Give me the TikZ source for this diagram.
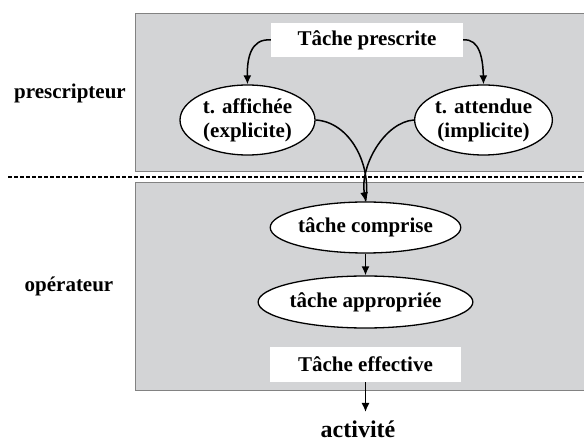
\documentclass[tikz,border=0pt]{standalone}
\usepackage{fontspec}
\setmainfont{Liberation Serif}
\usetikzlibrary{arrows.meta,shapes.geometric}
\definecolor{panelgray}{RGB}{211,212,214}
\definecolor{paneledge}{RGB}{130,130,130}
\begin{document}
\begin{tikzpicture}[x=1pt,y=-1pt,
  panel/.style={draw=paneledge,fill=panelgray,line width=0.9pt},
  whitebox/.style={fill=white,draw=none,inner sep=0pt,minimum width=192pt,minimum height=34pt,font=\fontsize{21}{24}\selectfont\bfseries},
  oval/.style={ellipse,draw=black,fill=white,line width=1.3pt,inner sep=0pt,align=center,font=\fontsize{21}{24}\selectfont\bfseries},
  sidelabel/.style={font=\fontsize{21}{24}\selectfont\bfseries},
  conn/.style={line width=1.5pt,-{Latex[length=9pt,width=8pt]}},
  plainconn/.style={line width=1.5pt}]
\useasboundingbox (0,0) rectangle (584,443);
\fill[white] (0,0) rectangle (584,443);
\begin{scope}
\clip (0,0) rectangle (584,443);
\draw[panel] (135,13) rectangle (600,171);
\draw[panel] (135,182) rectangle (600,390);
\draw[line width=1.1pt,dash pattern=on 4pt off 2pt] (8,177) -- (600,177);
\end{scope}

\node[sidelabel] (lpres) at (70,93) {prescripteur};
\node[sidelabel] (lop) at (69,286) {opérateur};

\node[whitebox] (presc) at (367,40) {Tâche prescrite};
\node[oval,minimum width=135pt,minimum height=70pt] (aff) at (247.5,120) {t. affichée\\(explicite)};
\node[oval,minimum width=135pt,minimum height=70pt] (att) at (483.5,120) {t. attendue\\(implicite)};
\node[oval,minimum width=180pt,minimum height=51pt] (comp) at (365.5,227.5) {tâche comprise};
\node[oval,minimum width=181pt,minimum height=52pt] (appr) at (365.5,302) {tâche appropriée};
\node[whitebox,minimum width=191pt,minimum height=35pt] (eff) at (365.5,364.5) {Tâche effective};
\node[font=\fontsize{24}{28}\selectfont\bfseries] (act) at (358,429) {activité};

\coordinate (merge) at (comp.north);
\draw[conn] (presc.west) .. controls (250,38) and (247,60) .. (aff.north);
\draw[conn] (presc.east) .. controls (480,38) and (483,60) .. (att.north);
\draw[plainconn] (aff.east) .. controls (350,122) and (372,165) .. (merge);
\draw[conn] (att.west) .. controls (385,122) and (360,165) .. (merge);
\draw[conn] (comp.south) -- (appr.north);
\draw[conn] (eff.south) -- (365.5,412) coordinate (actin);
\end{tikzpicture}
\end{document}
